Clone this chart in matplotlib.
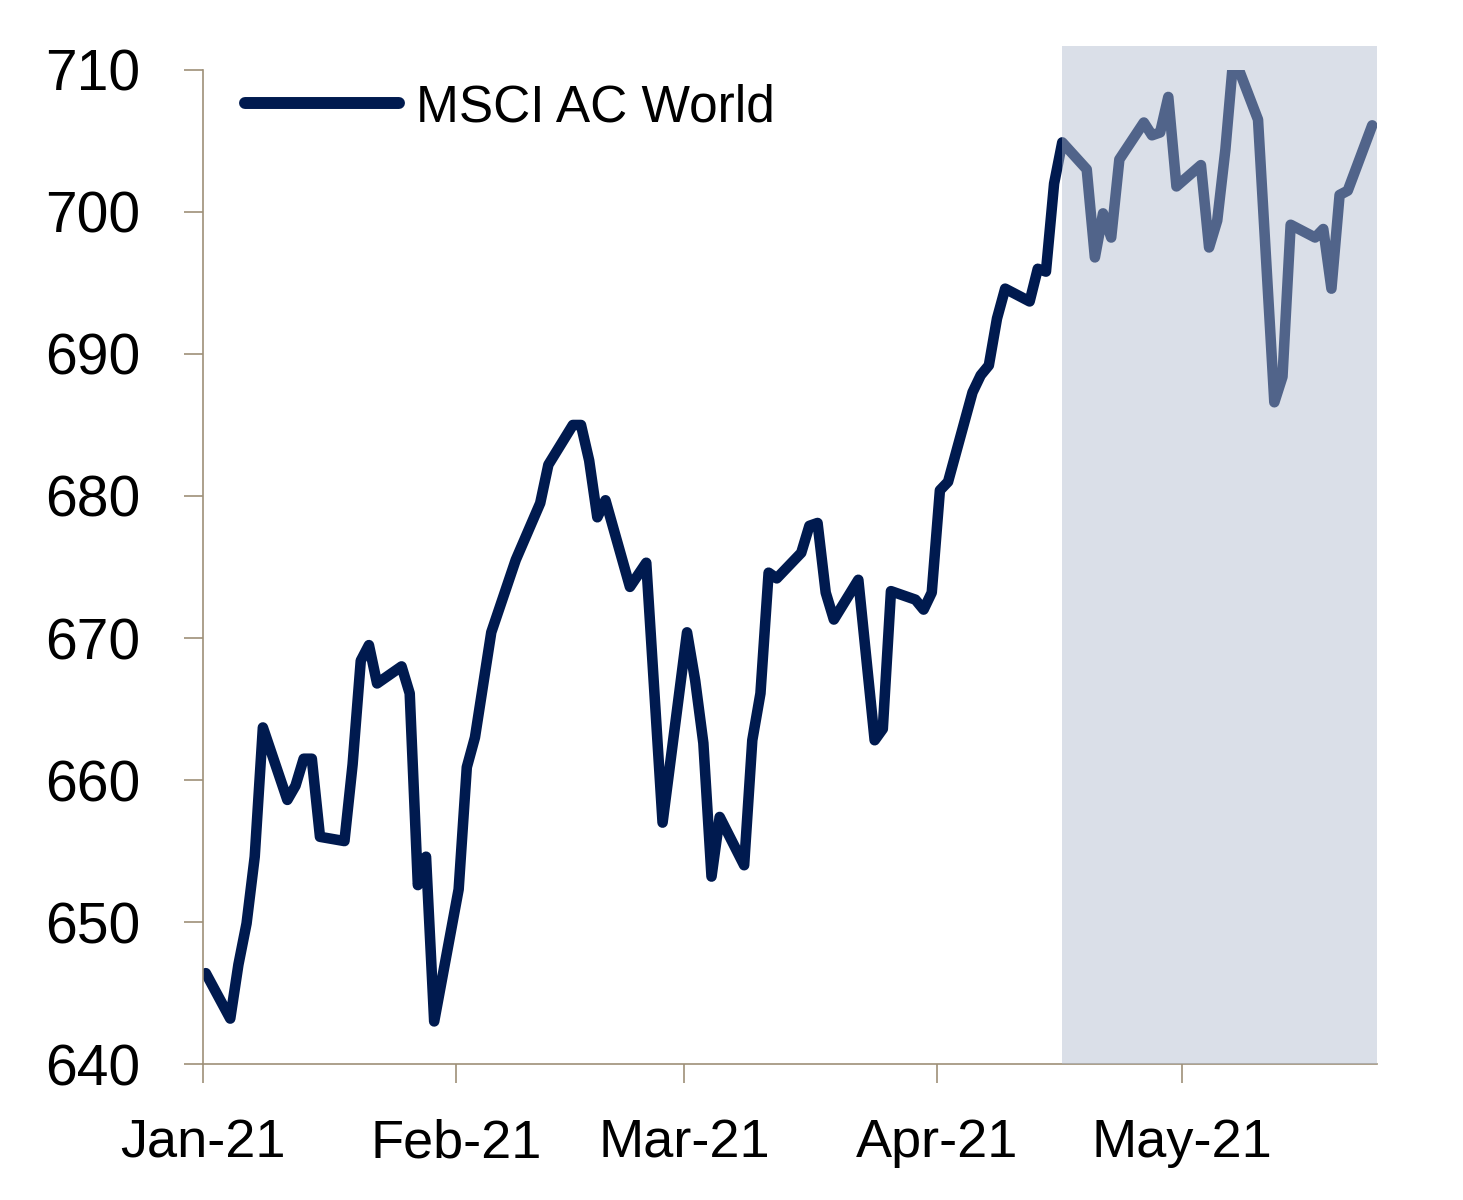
import numpy as np
import pandas as pd
import matplotlib
matplotlib.use("Agg")
import matplotlib.pyplot as plt
import matplotlib.dates as mdates

# MSCI AC World index level, turning points
dates = [
    "2021-01-01", "2021-01-04", "2021-01-05", "2021-01-06", "2021-01-07", "2021-01-08",
    "2021-01-11", "2021-01-12", "2021-01-13", "2021-01-14", "2021-01-15",
    "2021-01-18", "2021-01-19", "2021-01-20", "2021-01-21", "2021-01-22",
    "2021-01-25", "2021-01-26", "2021-01-27", "2021-01-28", "2021-01-29",
    "2021-02-01", "2021-02-02", "2021-02-03", "2021-02-05",
    "2021-02-08", "2021-02-11", "2021-02-12",
    "2021-02-15", "2021-02-16", "2021-02-17", "2021-02-18", "2021-02-19",
    "2021-02-22", "2021-02-24", "2021-02-26",
    "2021-03-01", "2021-03-02", "2021-03-03", "2021-03-04", "2021-03-05",
    "2021-03-08", "2021-03-09", "2021-03-10", "2021-03-11", "2021-03-12",
    "2021-03-15", "2021-03-16", "2021-03-17", "2021-03-18", "2021-03-19",
    "2021-03-22", "2021-03-24", "2021-03-25", "2021-03-26",
    "2021-03-29", "2021-03-30", "2021-03-31", "2021-04-01", "2021-04-02",
    "2021-04-05", "2021-04-06", "2021-04-07", "2021-04-08", "2021-04-09",
    "2021-04-12", "2021-04-13", "2021-04-14", "2021-04-15", "2021-04-16",
    "2021-04-19", "2021-04-20", "2021-04-21", "2021-04-22", "2021-04-23",
    "2021-04-26", "2021-04-27", "2021-04-28", "2021-04-29", "2021-04-30",
    "2021-05-03", "2021-05-04", "2021-05-05", "2021-05-06", "2021-05-07",
    "2021-05-10", "2021-05-12", "2021-05-13", "2021-05-14",
    "2021-05-17", "2021-05-18", "2021-05-19", "2021-05-20", "2021-05-21",
    "2021-05-24",
]
values = [
    646.4, 643.2, 647.0, 649.9, 654.6, 663.7,
    658.6, 659.6, 661.5, 661.5, 656.0,
    655.7, 661.1, 668.4, 669.5, 666.8,
    668.0, 666.1, 652.6, 654.6, 643.0,
    652.3, 660.9, 663.0, 670.4,
    675.5, 679.5, 682.2,
    685.0, 685.0, 682.5, 678.5, 679.7,
    673.6, 675.3, 657.0,
    670.4, 667.0, 662.6, 653.2, 657.4,
    654.0, 662.8, 666.1, 674.6, 674.2,
    676.0, 677.9, 678.1, 673.2, 671.3,
    674.1, 662.8, 663.6, 673.3,
    672.7, 672.0, 673.2, 680.4, 681.0,
    687.3, 688.5, 689.2, 692.5, 694.6,
    693.7, 696.0, 695.8, 702.0, 704.9,
    703.0, 696.8, 699.9, 698.2, 703.7,
    706.3, 705.4, 705.6, 708.1, 701.8,
    703.3, 697.5, 699.4, 704.4, 711.0,
    706.5, 686.6, 688.4, 699.1,
    698.2, 698.8, 694.6, 701.2, 701.5,
    706.1,
]
series_name = "MSCI AC World"
shade_start = "2021-04-16"
month_ticks = ["2021-01-01", "2021-02-01", "2021-03-01", "2021-04-01", "2021-05-01"]
y_ticks = [640, 650, 660, 670, 680, 690, 700, 710]

plt.rcParams['font.family'] = ['Liberation Sans', 'DejaVu Sans']

# closing values sit a little after midnight of each day on the axis
x = pd.to_datetime(dates) + pd.Timedelta(hours=8)
spine_col = '#9E9078'
navy = '#001A4F'

fig = plt.figure(figsize=(14.63, 12), dpi=100)
ax = fig.add_axes([0.1388, 0.1133, 0.8024, 0.8284])

ax.plot(x, values, color=navy, lw=7.6, solid_capstyle='round',
        solid_joinstyle='round', label=series_name, zorder=2)

x_end = pd.Timestamp(dates[-1]) + pd.Timedelta(hours=22)
ax.axvspan(pd.Timestamp(shade_start) + pd.Timedelta(hours=8), x_end,
           ymin=0, ymax=1.024, color='#B0BBCE', alpha=0.465, lw=0,
           zorder=3, clip_on=False)

ax.set_xlim(pd.Timestamp(dates[0]), x_end)
ax.set_ylim(640, 710)
ax.set_yticks(y_ticks)
ax.set_xticks(pd.to_datetime(month_ticks))
ax.xaxis.set_major_formatter(mdates.DateFormatter('%b-%y'))

for s in ['top', 'right']:
    ax.spines[s].set_visible(False)
for s in ['left', 'bottom']:
    ax.spines[s].set_color(spine_col)
    ax.spines[s].set_linewidth(1.2)

ax.tick_params(axis='y', length=14, width=1.2, color=spine_col,
               labelsize=41, pad=31, labelcolor='black')
ax.tick_params(axis='x', length=14, width=1.2, color=spine_col,
               labelsize=39, pad=25, labelcolor='black')

leg = ax.legend(loc='center left', bbox_to_anchor=(0.036, 0.962), frameon=False,
                fontsize=37, handlelength=3.0, handletextpad=0.32,
                borderaxespad=0, borderpad=0)
for h in leg.get_lines():
    h.set_linewidth(8.6)
    h.set_solid_capstyle('round')

fig.savefig('out.png', dpi=100)
